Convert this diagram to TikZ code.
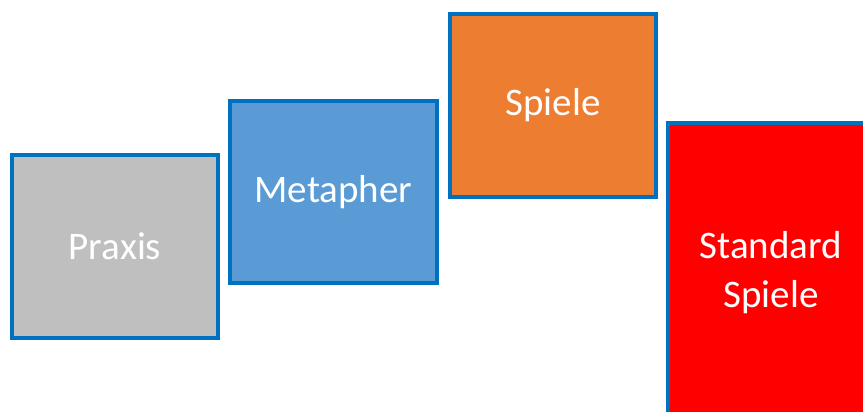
\documentclass[tikz,border=0pt]{standalone}
\usepackage{fontspec}
\setmainfont{Carlito}
\definecolor{bordblue}{HTML}{0070C0}
\definecolor{grayfill}{HTML}{BFBFBF}
\definecolor{bluefill}{HTML}{5B9BD5}
\definecolor{orangefill}{HTML}{ED7D31}
\definecolor{redfill}{HTML}{FF0000}
\begin{document}
\begin{tikzpicture}[x=1pt,y=-1pt,
  card/.style={draw=bordblue, line width=4pt, rectangle, text=white,
    font=\fontsize{39}{49}\selectfont, align=center, inner sep=0pt}]
\useasboundingbox (0,0) rectangle (863,412);
\clip (0,0) rectangle (863,412);
\node[card, fill=grayfill, minimum width=206pt, minimum height=183pt] (praxis) at (115,246.5) {Praxis};
\node[card, fill=bluefill, minimum width=207pt, minimum height=182pt] (metapher) at (333.5,192) {Metapher};
\node[card, fill=orangefill, minimum width=206pt, minimum height=183pt] (spiele) at (553,105.5) {Spiele};
\node[card, fill=redfill, minimum width=206pt, minimum height=300pt] (standard) at (771,273) {Standard\\Spiele};
\end{tikzpicture}
\end{document}
